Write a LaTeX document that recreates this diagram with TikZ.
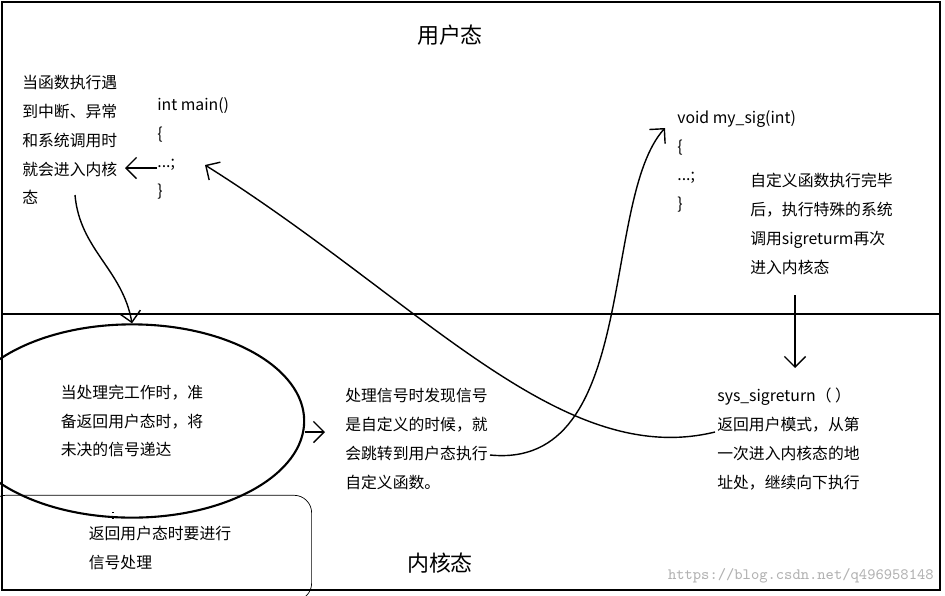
\documentclass[tikz,border=0pt]{standalone}
\usepackage{fontspec}
\setmainfont{Noto Sans CJK SC}
\usetikzlibrary{calc, shapes.geometric, arrows.meta}

\tikzset{
  txt/.style={anchor=north west, inner sep=0pt, align=left, font=\fontsize{9}{16.4}\selectfont},
  big/.style={font=\fontsize{12.5}{14}\selectfont},
  arr/.style={-{Straight Barb[length=6pt,width=12pt]}, thick},
}

\begin{document}
\begin{tikzpicture}[x=0.02cm, y=-0.02cm]
\useasboundingbox (0,0) rectangle (945,595);

\draw[thick] (2,2) rectangle (940,590);
\draw[thick] (2,314) -- (940,314);
\node[big] (user) at (450,35) {用户态};
\node[big] (kernel) at (440,563) {内核态};

% user side, left
\node[txt] (trap) at (22,75) {当函数执行遇\\到中断、异常\\和系统调用时\\就会进入内核\\态};
\node[txt] (main) at (157,97) {int main()\\\{\\...;\\\}};
\coordinate (mainR) at (157,168);
\coordinate (trapR) at (125,168);
\draw[arr] (mainR) -- (trapR);

% kernel side
\node[ellipse, draw, very thick, minimum width=196, minimum height=110, inner sep=0pt] (done) at (132,421) {};
\node[txt, anchor=center] (doneT) at (132,421) {当处理完工作时，准\\备返回用户态时，将\\未决的信号递达};
\coordinate (trapB) at (75,195);
\draw[arr] (trapB) to[out=-85, in=100] (done.north);
\node[draw, rounded corners=10pt, minimum width=184, minimum height=60, inner sep=0pt] (ret) at (150,548) {};
\node[txt, anchor=center] (retT) at (160,548) {返回用户态时要进行\\信号处理};
\draw[very thick, dotted] (done.south -| 113,0) -- (113,512);

\node[txt] (jump) at (345,388) {处理信号时发现信号\\是自定义的时候，就\\会跳转到用户态执行\\自定义函数。};
\draw[arr] (done.east |- 0,432) -- (325,432);

% user side, right
\node[txt] (sig) at (677,110) {void my\_sig(int)\\\{\\...;\\\}};
\node[txt] (finish) at (750,173) {自定义函数执行完毕\\后，执行特殊的系统\\调用sigreturm再次\\进入内核态};
\coordinate (jumpR) at (490,455);
\coordinate (sigL) at (665,128);
\draw[arr] (jumpR) .. controls (640,470) and (600,200) .. (sigL);
\coordinate (finishB) at (795,295);
\coordinate (sysT) at (795,368);
\draw[arr] (finishB) -- (sysT);

\node[txt] (sys) at (717,388) {sys\_sigreturn（ ）\\返回用户模式，从第\\一次进入内核态的地\\址处，继续向下执行};
\coordinate (sysL) at (715,432);
\coordinate (mainT) at (205,165);
\draw[arr] (sysL) .. controls (560,470) and (420,300) .. (mainT);

\node[anchor=east, text=gray!60, font=\ttfamily\fontsize{9}{10}\selectfont, inner sep=0pt] (mark) at (934,576) {https://blog.csdn.net/q496958148};
\end{tikzpicture}
\end{document}
